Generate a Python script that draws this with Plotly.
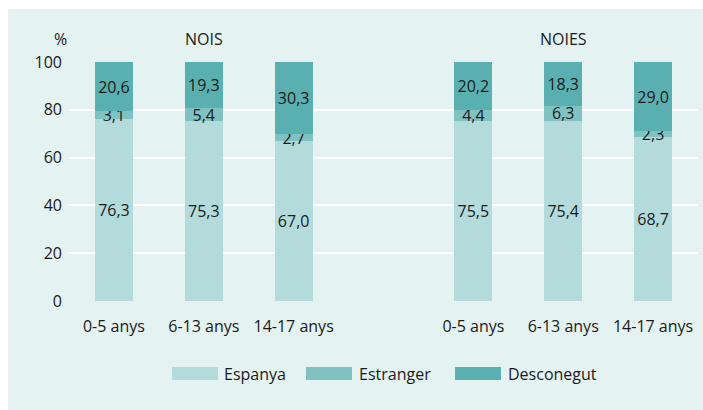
import plotly.graph_objects as go

# ---- data ----
groups = ["NOIS", "NOIES"]
ages = ["0-5 anys", "6-13 anys", "14-17 anys"]
series_names = ["Espanya", "Estranger", "Desconegut"]
espanya = [76.3, 75.3, 67.0, 75.5, 75.4, 68.7]
estranger = [3.1, 5.4, 2.7, 4.4, 6.3, 2.3]
desconegut = [20.6, 19.3, 30.3, 20.2, 18.3, 29.0]
y_ticks = [0, 20, 40, 60, 80, 100]

colors = ["#b3dbdb", "#80c2c2", "#5ab0b0"]
panel = "#e4f2f1"
txt = "#1a1a1a"
FONT = "Open Sans"

# x positions: groups separated by one empty slot
xpos = []
labels = []
for gi, g in enumerate(groups):
    for ai, a in enumerate(ages):
        xpos.append(gi * (len(ages) + 1) + ai)
        labels.append(a)

W, H = 703, 410
L, R, T, B = 69, 5, 62, 109
pw, ph = W - L - R, H - T - B

def pxx(px):
    return (px - L) / pw

def pxy(py):
    return (H - B - py) / ph

fig = go.Figure()
for name, vals, col in zip(series_names, [espanya, estranger, desconegut], colors):
    fig.add_trace(go.Bar(
        x=xpos, y=vals, name=name, marker=dict(color=col, line=dict(width=0)),
        width=0.42, texttemplate="%{y:.1f}", textposition="inside",
        insidetextanchor="middle", constraintext="none",
        textfont=dict(family=FONT, size=16, color=txt),
        showlegend=False,
    ))

shapes = [dict(type="rect", xref="paper", yref="paper",
               x0=pxx(8), x1=pxx(703), y0=pxy(410), y1=pxy(9),
               fillcolor=panel, line=dict(width=0), layer="below")]
annotations = []

# group titles
for gi, g in enumerate(groups):
    annotations.append(dict(x=gi * (len(ages) + 1) + 1, y=pxy(39), xref="x", yref="paper",
                            text=g, showarrow=False, xanchor="center", yanchor="middle",
                            font=dict(family=FONT, size=16, color=txt)))
annotations.append(dict(x=pxx(60), y=pxy(39), xref="paper", yref="paper", text="%",
                        showarrow=False, xanchor="center", yanchor="middle",
                        font=dict(family=FONT, size=16, color=txt)))

# custom legend
leg = [(172, 218, 222), (306, 352, 357), (455, 501, 506)]
for (s0, s1, tx), name, col in zip(leg, series_names, colors):
    shapes.append(dict(type="rect", xref="paper", yref="paper",
                       x0=pxx(s0), x1=pxx(s1), y0=pxy(380), y1=pxy(367),
                       fillcolor=col, line=dict(width=0)))
    annotations.append(dict(x=pxx(tx), y=pxy(374), xref="paper", yref="paper", text=name,
                            xanchor="left", yanchor="middle", showarrow=False,
                            font=dict(family=FONT, size=16, color=txt)))

fig.update_layout(
    width=W, height=H, barmode="stack", separators=",.",
    margin=dict(l=L, r=R, t=T, b=B),
    paper_bgcolor="white", plot_bgcolor="rgba(0,0,0,0)",
    font=dict(family=FONT, size=16, color=txt),
    shapes=shapes, annotations=annotations, showlegend=False,
    xaxis=dict(range=[-0.5, len(xpos) + 0.5], tickvals=xpos, ticktext=labels,
               showgrid=False, zeroline=False, showline=False, ticks="",
               ticklabelstandoff=14,
               tickfont=dict(family=FONT, size=16, color=txt), fixedrange=True),
    yaxis=dict(range=[0, 100], tickvals=y_ticks, showgrid=True, gridcolor="white",
               gridwidth=2, zeroline=False, showline=False, ticks="",
               ticklabelstandoff=6,
               tickfont=dict(family=FONT, size=16, color=txt), fixedrange=True),
)

fig.write_html("out.html", config={"displayModeBar": False},
               post_script="document.body.style.margin='0';document.body.style.overflow='hidden';")
